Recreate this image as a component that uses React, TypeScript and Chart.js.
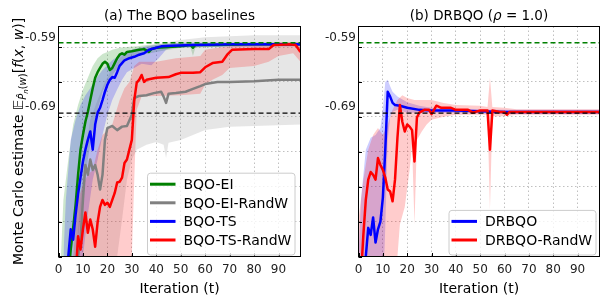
import React, { useEffect, useRef } from "react";
import { Chart, registerables } from "chart.js";

Chart.register(...registerables);
Chart.defaults.font.family = '"DejaVu Sans", sans-serif';

// ---------- axes ----------
const xMin = 0;
const xMax = 99;
const yMin = -0.89;
const yMax = -0.5606;
const xTickValues = [0, 10, 20, 30, 40, 50, 60, 70, 80, 90];
const xTickLabels = ["0", "10", "20", "30", "40", "50", "60", "70", "80", "90"];
const yTickValues = [-0.89, -0.84, -0.79, -0.74, -0.69, -0.64, -0.59];
const yTickLabels = ["", "", "", "", "-0.69", "", "-0.59"];

// reference levels (dashed)
const bestValue = -0.5839;
const drValue = -0.6847;

// ---------- (a) BQO-EI ----------
const eiT = [4, 5, 6, 7, 8, 9, 10, 11, 12, 13, 14, 15, 16, 17, 18, 19, 20, 21, 22, 23, 24, 25, 26, 27, 28, 30, 33, 35, 37, 38, 40, 45, 50, 54, 55, 56, 65, 80, 99];
const eiMean = [-0.92, -0.88, -0.849, -0.816, -0.773, -0.737, -0.716, -0.697, -0.683, -0.666, -0.649, -0.634, -0.626, -0.62, -0.614, -0.611, -0.614, -0.623, -0.62, -0.613, -0.606, -0.601, -0.599, -0.601, -0.597, -0.596, -0.594, -0.593, -0.597, -0.593, -0.591, -0.59, -0.589, -0.587, -0.591, -0.587, -0.587, -0.586, -0.586];
const eiHiT = [1, 2, 4, 6, 8, 10, 12, 14, 16, 18, 20, 22, 25, 28, 32, 36, 40, 50, 70, 99];
const eiHi = [-0.89, -0.809, -0.751, -0.701, -0.673, -0.651, -0.634, -0.617, -0.606, -0.6, -0.597, -0.594, -0.591, -0.59, -0.589, -0.587, -0.586, -0.584, -0.583, -0.583];
const eiLoT = [1, 6, 8, 10, 12, 14, 16, 18, 20, 22, 25, 28, 32, 36, 40, 45, 50, 54, 55, 56, 60, 70, 99];
const eiLo = [-0.95, -0.95, -0.866, -0.809, -0.751, -0.709, -0.68, -0.654, -0.64, -0.63, -0.617, -0.609, -0.603, -0.6, -0.597, -0.594, -0.591, -0.591, -0.603, -0.591, -0.59, -0.589, -0.589];

// ---------- (a) BQO-EI-RandW ----------
const erT = [7, 8, 9, 10, 11, 12, 13, 14, 15, 16, 17, 18, 19, 20, 22, 24, 26, 28, 30, 31, 33, 36, 39, 42, 43, 44, 45, 48, 52, 55, 58, 60, 65, 70, 80, 90, 99];
const erMean = [-0.92, -0.89, -0.866, -0.809, -0.759, -0.773, -0.751, -0.766, -0.759, -0.773, -0.794, -0.773, -0.723, -0.706, -0.703, -0.709, -0.704, -0.703, -0.687, -0.663, -0.66, -0.659, -0.656, -0.654, -0.661, -0.67, -0.657, -0.656, -0.654, -0.65, -0.646, -0.643, -0.64, -0.64, -0.639, -0.637, -0.637];
const erHiT = [7, 9, 11, 13, 16, 19, 22, 25, 28, 32, 40, 50, 60, 80, 99];
const erHi = [-0.89, -0.809, -0.737, -0.694, -0.666, -0.64, -0.62, -0.606, -0.597, -0.591, -0.586, -0.58, -0.576, -0.573, -0.573];
const erLoT = [7, 22, 24, 26, 28, 30, 32, 36, 40, 43, 44, 45, 50, 55, 60, 70, 80, 99];
const erLo = [-0.95, -0.95, -0.89, -0.837, -0.78, -0.751, -0.737, -0.73, -0.726, -0.73, -0.749, -0.727, -0.723, -0.716, -0.709, -0.704, -0.703, -0.701];

// ---------- (a) BQO-TS ----------
const tsT = [3, 4, 5, 6, 7, 8, 9, 10, 11, 12, 13, 14, 15, 16, 17, 18, 19, 20, 21, 22, 23, 24, 25, 26, 27, 29, 31, 33, 35, 37, 40, 42, 46, 55, 70, 99];
const tsMean = [-0.92, -0.89, -0.851, -0.866, -0.83, -0.801, -0.777, -0.754, -0.737, -0.723, -0.711, -0.737, -0.701, -0.684, -0.677, -0.666, -0.654, -0.644, -0.637, -0.633, -0.634, -0.626, -0.617, -0.613, -0.609, -0.606, -0.604, -0.601, -0.599, -0.594, -0.591, -0.589, -0.588, -0.587, -0.586, -0.586];
const tsHiT = [2, 3, 5, 7, 9, 11, 13, 15, 18, 22, 26, 30, 35, 40, 50, 99];
const tsHi = [-0.89, -0.809, -0.723, -0.694, -0.673, -0.659, -0.649, -0.637, -0.623, -0.609, -0.599, -0.594, -0.59, -0.587, -0.584, -0.584];
const tsLoT = [2, 9, 10, 12, 14, 16, 18, 20, 22, 24, 26, 28, 31, 34, 38, 41, 44, 46, 55, 99];
const tsLo = [-0.95, -0.95, -0.89, -0.83, -0.78, -0.751, -0.716, -0.687, -0.666, -0.651, -0.637, -0.626, -0.62, -0.614, -0.616, -0.606, -0.594, -0.591, -0.59, -0.589];

// ---------- (a) BQO-TS-RandW ----------
const trT = [7, 8, 9, 10, 11, 12, 13, 14, 15, 16, 17, 18, 19, 20, 21, 22, 23, 24, 25, 26, 27, 28, 29, 30, 31, 32, 33, 34, 35, 36, 40, 45, 48, 50, 55, 58, 60, 63, 67, 69, 71, 80, 86, 88, 95, 97, 99];
const trMean = [-0.92, -0.861, -0.88, -0.851, -0.827, -0.856, -0.837, -0.851, -0.876, -0.841, -0.819, -0.809, -0.816, -0.813, -0.819, -0.809, -0.799, -0.784, -0.783, -0.777, -0.756, -0.751, -0.737, -0.723, -0.666, -0.641, -0.637, -0.63, -0.64, -0.637, -0.634, -0.633, -0.629, -0.627, -0.627, -0.626, -0.619, -0.613, -0.611, -0.601, -0.594, -0.593, -0.593, -0.587, -0.586, -0.587, -0.597];
const trHiT = [6, 8, 10, 12, 14, 16, 18, 20, 22, 25, 27, 29, 31, 33, 40, 48, 58, 60, 65, 70, 80, 90, 99];
const trHi = [-0.89, -0.809, -0.787, -0.773, -0.766, -0.737, -0.716, -0.709, -0.701, -0.666, -0.649, -0.64, -0.617, -0.611, -0.611, -0.606, -0.603, -0.594, -0.591, -0.589, -0.587, -0.583, -0.583];
const trLoT = [6, 29, 30, 31, 32, 34, 40, 50, 58, 60, 63, 67, 70, 80, 86, 90, 96, 99];
const trLo = [-0.95, -0.95, -0.89, -0.78, -0.68, -0.661, -0.66, -0.659, -0.657, -0.644, -0.637, -0.63, -0.62, -0.617, -0.611, -0.603, -0.599, -0.611];

// ---------- (b) DRBQO ----------
const drT = [2, 3, 4, 5, 6, 7, 8, 9, 10, 11, 12, 13, 14, 15, 17, 20, 25, 30, 40, 60, 99];
const drMean = [-0.92, -0.89, -0.849, -0.859, -0.834, -0.87, -0.851, -0.84, -0.806, -0.737, -0.654, -0.661, -0.67, -0.673, -0.674, -0.677, -0.68, -0.681, -0.681, -0.683, -0.683];
const drHiT = [0, 1, 3, 5, 7, 9, 10, 11, 12, 13, 14, 16, 20, 25, 30, 40, 60, 99];
const drHi = [-0.89, -0.809, -0.737, -0.72, -0.716, -0.706, -0.68, -0.64, -0.637, -0.646, -0.654, -0.661, -0.669, -0.674, -0.677, -0.679, -0.68, -0.68];
const drLoT = [0, 10, 11, 12, 13, 14, 16, 20, 30, 60, 99];
const drLo = [-0.95, -0.95, -0.849, -0.723, -0.691, -0.683, -0.68, -0.684, -0.684, -0.686, -0.686];

// ---------- (b) DRBQO-RandW ----------
const rwT = [1, 2, 3, 4, 5, 6, 7, 8, 9, 10, 11, 12, 13, 14, 15, 16, 17, 18, 19, 20, 21, 22, 23, 24, 25, 27, 29, 30, 32, 34, 38, 40, 45, 47, 50, 53, 54, 55, 58, 60, 61, 62, 70, 99];
const rwMean = [-0.92, -0.859, -0.809, -0.78, -0.769, -0.773, -0.78, -0.749, -0.759, -0.766, -0.777, -0.794, -0.797, -0.811, -0.78, -0.72, -0.673, -0.697, -0.711, -0.701, -0.704, -0.709, -0.754, -0.691, -0.684, -0.68, -0.68, -0.686, -0.674, -0.677, -0.677, -0.68, -0.68, -0.684, -0.681, -0.681, -0.737, -0.681, -0.683, -0.683, -0.687, -0.683, -0.683, -0.683];
const rwHiT = [0, 2, 4, 6, 8, 10, 12, 14, 16, 18, 20, 23, 26, 30, 35, 40, 50, 53, 54, 55, 60, 65, 99];
const rwHi = [-0.837, -0.78, -0.737, -0.716, -0.706, -0.716, -0.701, -0.68, -0.666, -0.659, -0.663, -0.666, -0.666, -0.666, -0.67, -0.673, -0.674, -0.676, -0.634, -0.676, -0.677, -0.679, -0.679];
const rwLoT = [0, 15, 16, 17, 19, 21, 22, 23, 24, 26, 28, 30, 35, 40, 53, 54, 55, 60, 65, 99];
const rwLo = [-0.95, -0.95, -0.89, -0.844, -0.819, -0.766, -0.73, -0.844, -0.723, -0.711, -0.701, -0.694, -0.69, -0.687, -0.687, -0.823, -0.689, -0.689, -0.687, -0.687];

// ---------- colours ----------
const GREEN = "#008000";
const GRAY = "#808080";
const BLUE = "#0000ff";
const RED = "#ff0000";
const GREEN_A = "rgba(0,128,0,0.2)";
const GRAY_A = "rgba(128,128,128,0.2)";
const BLUE_A = "rgba(0,0,255,0.2)";
const RED_A = "rgba(255,0,0,0.2)";

const FONT = '"DejaVu Sans", sans-serif';

type Seg = { t: string; f: string; dy?: number };

const pts = (t: number[], v: number[]) => t.map((x, i) => ({ x, y: v[i] }));

function band(tHi: number[], hi: number[], tLo: number[], lo: number[], color: string) {
  return [
    { data: pts(tHi, hi), borderWidth: 0, borderColor: "transparent", pointRadius: 0, fill: "+1", backgroundColor: color, tension: 0, clip: 0 },
    { data: pts(tLo, lo), borderWidth: 0, borderColor: "transparent", pointRadius: 0, fill: false, tension: 0, clip: 0 },
  ];
}
function line(t: number[], v: number[], color: string) {
  return { data: pts(t, v), borderColor: color, borderWidth: 2.5, pointRadius: 0, fill: false, tension: 0, borderJoinStyle: "round", clip: 0 };
}
function dashed(value: number, color: string) {
  return { data: [{ x: xMin, y: value }, { x: xMax, y: value }], borderColor: color, borderWidth: 1.3, borderDash: [5, 3], pointRadius: 0, fill: false, clip: 0 };
}

function measureSegs(ctx: CanvasRenderingContext2D, segs: Seg[]) {
  return segs.map((s) => {
    ctx.font = s.f;
    return ctx.measureText(s.t).width;
  });
}
function drawSegs(ctx: CanvasRenderingContext2D, segs: Seg[], x: number, y: number, color: string) {
  const w = measureSegs(ctx, segs);
  const total = w.reduce((a, b) => a + b, 0);
  let cx = x - total / 2;
  ctx.fillStyle = color;
  ctx.textAlign = "left";
  ctx.textBaseline = "alphabetic";
  segs.forEach((s, i) => {
    ctx.font = s.f;
    ctx.fillText(s.t, cx, y + (s.dy || 0));
    cx += w[i];
  });
}

const decoPlugin = {
  id: "deco",
  afterDraw(chart: any, _args: any, opts: any) {
    const ctx: CanvasRenderingContext2D = chart.ctx;
    const a = chart.chartArea;
    const cxm = (a.left + a.right) / 2;
    ctx.save();
    // frame
    ctx.strokeStyle = "#000";
    ctx.lineWidth = 1;
    ctx.setLineDash([]);
    ctx.strokeRect(a.left, a.top, a.right - a.left, a.bottom - a.top);
    // inward ticks
    const xs = chart.scales.x;
    const ys = chart.scales.y;
    ctx.beginPath();
    xs.ticks.forEach((tk: any) => {
      const px = Math.round(xs.getPixelForValue(tk.value)) + 0.5;
      ctx.moveTo(px, a.bottom);
      ctx.lineTo(px, a.bottom - 3.5);
    });
    ys.ticks.forEach((tk: any) => {
      const py = Math.round(ys.getPixelForValue(tk.value)) + 0.5;
      ctx.moveTo(a.left, py);
      ctx.lineTo(a.left + 3.5, py);
    });
    ctx.stroke();
    // title
    drawSegs(ctx, opts.title, cxm, 20, "#000");
    // x label
    drawSegs(ctx, [{ t: "Iteration (t)", f: `14px ${FONT}` }], cxm, 293, "#000");
    // y label
    if (opts.yTitle) {
      ctx.save();
      ctx.translate(23, (a.top + a.bottom) / 2);
      ctx.rotate(-Math.PI / 2);
      drawSegs(ctx, opts.yTitle, 0, 0, "#000");
      ctx.restore();
    }
    // legend
    const lg = opts.legend;
    if (lg) {
      const n = lg.items.length;
      const w = lg.width;
      const h = 11 + (n - 1) * 18.6 + 15;
      const right = a.right - lg.rightGap;
      const bottom = a.bottom - 1.5;
      const left = right - w;
      const top = bottom - h;
      ctx.beginPath();
      (ctx as any).roundRect(left, top, w, h, 3);
      ctx.fillStyle = "rgba(255,255,255,0.8)";
      ctx.fill();
      ctx.strokeStyle = "#cccccc";
      ctx.lineWidth = 1;
      ctx.stroke();
      lg.items.forEach((it: any, i: number) => {
        const y = top + 11 + i * 18.6;
        ctx.beginPath();
        ctx.strokeStyle = it.color;
        ctx.lineWidth = 3;
        ctx.moveTo(left + 2.5, y);
        ctx.lineTo(left + 28, y);
        ctx.stroke();
        ctx.fillStyle = "#000";
        ctx.font = `14px ${FONT}`;
        ctx.textAlign = "left";
        ctx.textBaseline = "alphabetic";
        ctx.fillText(it.label, left + 36, y + 5);
      });
    }
    ctx.restore();
  },
};

function makeConfig(datasets: any[], padding: any, deco: any) {
  datasets.forEach((d, i) => (d.order = datasets.length - i));
  return {
    type: "line",
    data: { datasets },
    options: {
      responsive: false,
      animation: false,
      events: [],
      devicePixelRatio: 1,
      layout: { padding },
      plugins: { legend: { display: false }, tooltip: { enabled: false }, deco },
      scales: {
        x: {
          type: "linear",
          min: xMin,
          max: xMax,
          afterBuildTicks: (s: any) => {
            s.ticks = xTickValues.map((v) => ({ value: v }));
          },
          afterFit: (s: any) => {
            s.height = 39.5;
          },
          grid: { color: "#b0b0b0", lineWidth: 0.8, drawTicks: false },
          border: { display: false, dash: [1.5, 2.5] },
          ticks: {
            padding: 6,
            color: "#222",
            font: { size: 12 },
            maxRotation: 0,
            autoSkip: false,
            callback: (_v: any, i: number) => xTickLabels[i],
          },
        },
        y: {
          type: "linear",
          min: yMin,
          max: yMax,
          afterBuildTicks: (s: any) => {
            s.ticks = yTickValues.map((v) => ({ value: v }));
          },
          afterFit: (s: any) => {
            s.width = 58.5;
          },
          grid: { color: "#b0b0b0", lineWidth: 0.8, drawTicks: false },
          border: { display: false, dash: [1.5, 2.5] },
          ticks: {
            padding: 2.5,
            color: "#222",
            font: { size: 12 },
            labelOffset: -9.5,
            autoSkip: false,
            callback: (_v: any, i: number) => yTickLabels[i],
          },
        },
      },
    },
    plugins: [decoPlugin],
  } as any;
}

const yTitleSegs: Seg[] = [
  { t: "Monte Carlo estimate ", f: `14px ${FONT}` },
  { t: "𝔼", f: `14px ${FONT}` },
  { t: "P̂", f: `italic 10px ${FONT}`, dy: 3 },
  { t: "n", f: `italic 7px ${FONT}`, dy: 5 },
  { t: "(", f: `10px ${FONT}`, dy: 3 },
  { t: "w", f: `italic 10px ${FONT}`, dy: 3 },
  { t: ")", f: `10px ${FONT}`, dy: 3 },
  { t: "[", f: `14px ${FONT}` },
  { t: "f", f: `italic 14px ${FONT}` },
  { t: "(", f: `14px ${FONT}` },
  { t: "x", f: `italic 14px ${FONT}` },
  { t: ", ", f: `14px ${FONT}` },
  { t: "w", f: `italic 14px ${FONT}` },
  { t: ")]", f: `14px ${FONT}` },
];

export default function App() {
  const leftRef = useRef<HTMLCanvasElement>(null);
  const rightRef = useRef<HTMLCanvasElement>(null);

  useEffect(() => {
    const leftSets = [
      ...band(eiHiT, eiHi, eiLoT, eiLo, GREEN_A),
      ...band(erHiT, erHi, erLoT, erLo, GRAY_A),
      ...band(tsHiT, tsHi, tsLoT, tsLo, BLUE_A),
      ...band(trHiT, trHi, trLoT, trLo, RED_A),
      line(eiT, eiMean, GREEN),
      line(erT, erMean, GRAY),
      line(tsT, tsMean, BLUE),
      line(trT, trMean, RED),
      dashed(bestValue, GREEN),
      dashed(drValue, "#000"),
    ];
    const rightSets = [
      ...band(drHiT, drHi, drLoT, drLo, BLUE_A),
      ...band(rwHiT, rwHi, rwLoT, rwLo, RED_A),
      line(drT, drMean, BLUE),
      line(rwT, rwMean, RED),
      dashed(bestValue, GREEN),
      dashed(drValue, "#000"),
    ];
    const c1 = new Chart(
      leftRef.current!,
      makeConfig(leftSets, { left: 0, top: 26.5, right: 300.5, bottom: 0 }, {
        title: [{ t: "(a) The BQO baselines", f: `13.5px ${FONT}` }],
        yTitle: yTitleSegs,
        legend: {
          width: 147.5,
          rightGap: 5.5,
          items: [
            { label: "BQO-EI", color: GREEN },
            { label: "BQO-EI-RandW", color: GRAY },
            { label: "BQO-TS", color: BLUE },
            { label: "BQO-TS-RandW", color: RED },
          ],
        },
      })
    );
    const c2 = new Chart(
      rightRef.current!,
      makeConfig(rightSets, { left: 300, top: 26.5, right: 1.5, bottom: 0 }, {
        title: [
          { t: "(b) DRBQO (", f: `13.5px ${FONT}` },
          { t: "ρ", f: `italic 13.5px ${FONT}` },
          { t: " = 1.0)", f: `13.5px ${FONT}` },
        ],
        yTitle: null,
        legend: {
          width: 147,
          rightGap: 3.5,
          items: [
            { label: "DRBQO", color: BLUE },
            { label: "DRBQO-RandW", color: RED },
          ],
        },
      })
    );
    return () => {
      c1.destroy();
      c2.destroy();
    };
  }, []);

  return (
    <div style={{ position: "fixed", left: 0, top: 0, width: 601, height: 296, background: "#fff", overflow: "hidden" }}>
      <canvas ref={leftRef} width={601} height={296} style={{ position: "absolute", left: 0, top: 0 }} />
      <canvas ref={rightRef} width={601} height={296} style={{ position: "absolute", left: 0, top: 0 }} />
    </div>
  );
}
